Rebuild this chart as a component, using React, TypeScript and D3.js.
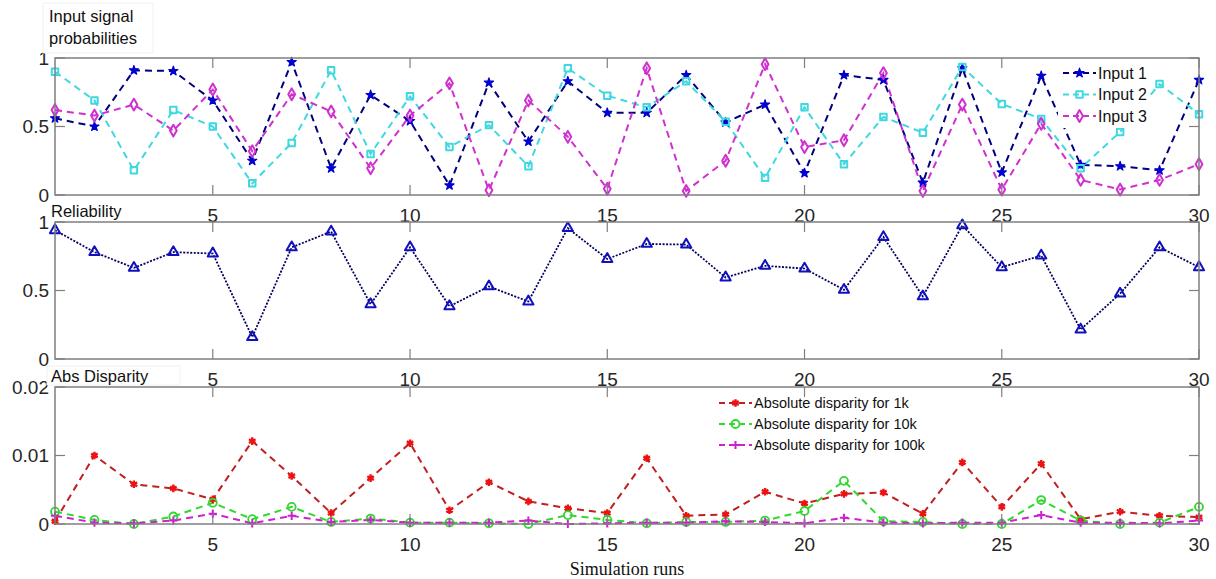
import React from 'react';
import * as d3 from 'd3';

const runs = [1,2,3,4,5,6,7,8,9,10,11,12,13,14,15,16,17,18,19,20,21,22,23,24,25,26,27,28,29,30];
const xTickValues = [5, 10, 15, 20, 25, 30];

const input1 = [0.56,0.50,0.91,0.905,0.69,0.25,0.97,0.195,0.73,0.54,0.07,0.82,0.39,0.83,0.60,0.60,0.875,0.53,0.66,0.16,0.875,0.84,0.09,0.925,0.165,0.87,0.22,0.21,0.18,0.84];
const input2 = [0.90,0.69,0.18,0.62,0.50,0.085,0.38,0.91,0.30,0.72,0.35,0.51,0.21,0.925,0.725,0.64,0.83,0.535,0.125,0.64,0.225,0.57,0.455,0.935,0.665,0.555,0.195,0.46,0.81,0.59];
const input3 = [0.62,0.58,0.66,0.47,0.77,0.32,0.735,0.61,0.195,0.58,0.815,0.035,0.69,0.425,0.045,0.925,0.03,0.25,0.955,0.35,0.40,0.89,0.03,0.66,0.04,0.52,0.11,0.04,0.11,0.225];

const reliability = [0.94,0.78,0.665,0.78,0.77,0.16,0.815,0.93,0.40,0.815,0.385,0.53,0.42,0.955,0.73,0.84,0.835,0.595,0.68,0.66,0.505,0.89,0.457,0.975,0.67,0.755,0.215,0.477,0.815,0.67];

const disp1k = [0.0004,0.0100,0.0058,0.0052,0.0036,0.0121,0.0070,0.0016,0.0067,0.0118,0.0020,0.0061,0.0033,0.0023,0.0016,0.0096,0.0012,0.0014,0.0047,0.0030,0.0044,0.0046,0.0015,0.0090,0.0025,0.0088,0.0007,0.0018,0.0012,0.0010];
const disp10k = [0.0018,0.0006,0.0000,0.0011,0.0031,0.0007,0.0025,0.0003,0.0008,0.0002,0.0002,0.0001,0.0000,0.0013,0.0006,0.0001,0.0003,0.0003,0.0005,0.0019,0.0063,0.0004,0.0003,0.0000,0.0000,0.0035,0.0005,0.0000,0.0002,0.0025];
const disp100k = [0.0012,0.0002,0.0001,0.0005,0.0015,0.0001,0.0012,0.0003,0.0006,0.0002,0.0002,0.0002,0.0005,0.0000,0.0001,0.0002,0.0002,0.0004,0.0003,0.0001,0.0009,0.0002,0.0001,0.0002,0.0002,0.0013,0.0002,0.0002,0.0001,0.0005];

const probTicks = [0, 0.5, 1];
const probTickLabels = ['0', '0.5', '1'];
const dispTicks = [0, 0.01, 0.02];
const dispTickLabels = ['0', '0.01', '0.02'];

const inputNames = ['Input 1', 'Input 2', 'Input 3'];
const dispNames = ['Absolute disparity for 1k', 'Absolute disparity for 10k', 'Absolute disparity for 100k'];

const FONT = '"Liberation Sans", Arial, sans-serif';
const LEFT = 55;
const RIGHT = 1199;
const BOX = '#7f7f7f';
const TXT = '#262626';

type Series = {
  values: number[];
  line: string;
  marker: string;
  symbol: d3.SymbolType;
  size: number;
  fill: boolean;
  dash: string;
  sw: number;
  msw: number;
};

const x = d3.scaleLinear().domain([1, 30]).range([LEFT, RIGHT]);

function Marker({ s, cx, cy }: { s: Series; cx: number; cy: number }) {
  const path = d3.symbol().type(s.symbol).size(s.size)() as string;
  return (
    <path
      d={path}
      transform={`translate(${cx},${cy})`}
      fill={s.fill ? s.marker : 'none'}
      stroke={s.marker}
      strokeWidth={s.msw}
      strokeLinejoin="round"
    />
  );
}

function Panel({ top, bottom, domain, ticks, tickLabels, series }: {
  top: number; bottom: number; domain: [number, number]; ticks: number[]; tickLabels: string[]; series: Series[];
}) {
  const y = d3.scaleLinear().domain(domain).range([bottom, top]);
  const line = d3.line<number>().x((_, i) => x(runs[i])).y((v) => y(v));
  const tl = 10;
  return (
    <g>
      {series.map((s, k) => (
        <path key={'l' + k} d={line(s.values) as string} fill="none" stroke={s.line} strokeWidth={s.sw} strokeDasharray={s.dash} />
      ))}
      {series.map((s, k) => (
        <g key={'m' + k}>
          {s.values.map((v, i) => (
            <Marker key={i} s={s} cx={x(runs[i])} cy={y(v)} />
          ))}
        </g>
      ))}
      <rect x={LEFT} y={top} width={RIGHT - LEFT} height={bottom - top} fill="none" stroke={BOX} strokeWidth={1.5} />
      {xTickValues.map((t) => (
        <g key={'xt' + t}>
          <line x1={x(t)} x2={x(t)} y1={bottom} y2={bottom - tl} stroke={BOX} strokeWidth={1.2} />
          <line x1={x(t)} x2={x(t)} y1={top} y2={top + tl} stroke={BOX} strokeWidth={1.2} />
          <text x={x(t)} y={bottom + 27} textAnchor="middle" fontFamily={FONT} fontSize={19} fill={TXT}>{t}</text>
        </g>
      ))}
      {ticks.map((t, i) => (
        <g key={'yt' + i}>
          <line x1={LEFT} x2={LEFT + tl} y1={y(t)} y2={y(t)} stroke={BOX} strokeWidth={1.2} />
          <line x1={RIGHT} x2={RIGHT - tl} y1={y(t)} y2={y(t)} stroke={BOX} strokeWidth={1.2} />
          <text x={49} y={y(t) + 6.5} textAnchor="end" fontFamily={FONT} fontSize={19} fill={TXT}>{tickLabels[i]}</text>
        </g>
      ))}
    </g>
  );
}

function Legend({ series, names, lx, ly, step, fontSize, bg }: {
  series: Series[]; names: string[]; lx: number; ly: number; step: number; fontSize: number; bg?: [number, number, number, number];
}) {
  return (
    <g>
      {bg && <rect x={bg[0]} y={bg[1]} width={bg[2]} height={bg[3]} fill="white" />}
      {series.map((s, k) => {
        const yy = ly + k * step;
        return (
          <g key={k}>
            <line x1={lx} x2={lx + 33} y1={yy} y2={yy} stroke={s.line} strokeWidth={s.sw} strokeDasharray="6,4" />
            <Marker s={s} cx={lx + 16.5} cy={yy} />
            <text x={lx + 35} y={yy + fontSize * 0.36} fontFamily={FONT} fontSize={fontSize} fill="#111">{names[k]}</text>
          </g>
        );
      })}
    </g>
  );
}

export default function App() {
  const inputSeries: Series[] = [
    { values: input1, line: '#000080', marker: '#0000d0', symbol: d3.symbolStar, size: 26, fill: true, dash: '7,5', sw: 2, msw: 1.2 },
    { values: input2, line: '#40d8e0', marker: '#40d8e0', symbol: d3.symbolSquare, size: 42, fill: false, dash: '7,5', sw: 2, msw: 2 },
    { values: input3, line: '#d030d0', marker: '#d030d0', symbol: d3.symbolDiamond, size: 40, fill: false, dash: '7,5', sw: 2, msw: 2 },
  ];
  const relSeries: Series[] = [
    { values: reliability, line: '#000060', marker: '#1010c0', symbol: d3.symbolTriangle, size: 45, fill: false, dash: '2,1.5', sw: 1.8, msw: 2 },
  ];
  const dispSeries: Series[] = [
    { values: disp1k, line: '#c02020', marker: '#ee1111', symbol: d3.symbolAsterisk, size: 40, fill: false, dash: '7,5', sw: 2, msw: 2.4 },
    { values: disp10k, line: '#30d830', marker: '#30d830', symbol: d3.symbolCircle, size: 50, fill: false, dash: '7,5', sw: 2, msw: 1.8 },
    { values: disp100k, line: '#d020d0', marker: '#d020d0', symbol: d3.symbolPlus, size: 24, fill: false, dash: '7,5', sw: 2, msw: 2 },
  ];

  return (
    <svg width={1216} height={579} style={{ position: 'absolute', left: 0, top: 0, display: 'block', background: 'white' }}>
      <rect x={0} y={0} width={1216} height={579} fill="white" />
      <Panel top={58} bottom={195} domain={[0, 1]} ticks={probTicks} tickLabels={probTickLabels} series={inputSeries} />
      <Panel top={222} bottom={359} domain={[0, 1]} ticks={probTicks} tickLabels={probTickLabels} series={relSeries} />
      <Panel top={387} bottom={524} domain={[0, 0.02]} ticks={dispTicks} tickLabels={dispTickLabels} series={dispSeries} />

      <Legend series={inputSeries} names={inputNames} lx={1063} ly={73} step={21.5} fontSize={16} bg={[1058, 62, 92, 66]} />
      <Legend series={dispSeries} names={dispNames} lx={719} ly={403} step={21} fontSize={14.5} />

      <rect x={43} y={3} width={110} height={50} fill="white" stroke="#f2f2f2" />
      <text x={49} y={22} fontFamily={FONT} fontSize={16.5} fill="#111">Input signal</text>
      <text x={49} y={44} fontFamily={FONT} fontSize={16.5} fill="#111">probabilities</text>

      <text x={51} y={217} fontFamily={FONT} fontSize={16.5} fill="#111">Reliability</text>

      <rect x={47} y={366} width={133} height={19} fill="white" stroke="#f2f2f2" />
      <text x={51} y={382} fontFamily={FONT} fontSize={16.5} fill="#111">Abs Disparity</text>

      <text x={(LEFT + RIGHT) / 2} y={575} textAnchor="middle" fontFamily='"Liberation Serif", "Times New Roman", serif' fontSize={18} fill="#111">Simulation runs</text>
    </svg>
  );
}
